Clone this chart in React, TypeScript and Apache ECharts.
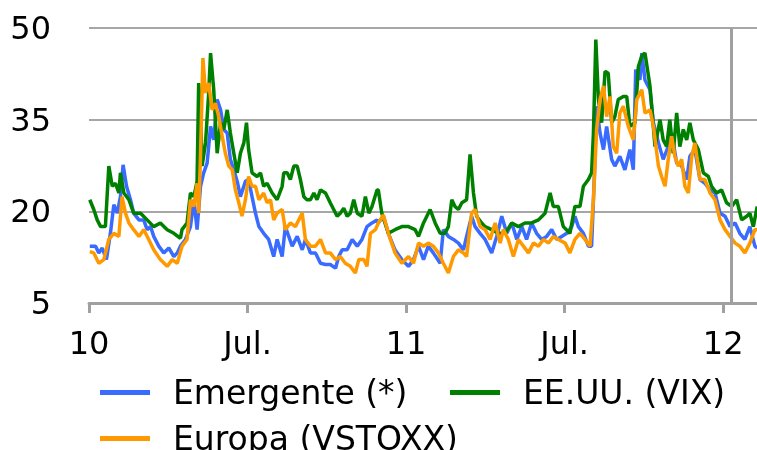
import React, { useEffect, useRef } from 'react';
import * as echarts from 'echarts';

// X positions are months elapsed since January 2010.
const tickMonths = [0, 6, 12, 18, 24];
const tickLabels = ['10', 'Jul.', '11', 'Jul.', '12'];
const axisMaxMonth = 25.28;
const markerMonth = 24.3;

const emergenteMonths = [
  0.03, 0.25, 0.37, 0.5, 0.66, 0.81, 0.94, 1.07, 1.19, 1.29, 1.42, 1.57, 1.69, 1.89, 2.07, 2.2, 2.33, 2.45, 2.64, 2.83,
  3.02, 3.21, 3.34, 3.46, 3.65, 3.84, 3.97, 4.09, 4.22, 4.34, 4.47, 4.6, 4.72, 4.85, 4.98, 5.1, 5.23, 5.35, 5.48, 5.61,
  5.73, 5.92, 6.04, 6.17, 6.3, 6.43, 6.61, 6.8, 6.99, 7.12, 7.31, 7.43, 7.56, 7.69, 7.88, 8.07, 8.19, 8.38, 8.57, 8.76,
  8.95, 9.13, 9.33, 9.45, 9.58, 9.77, 9.96, 10.15, 10.33, 10.52, 10.71, 10.9,
  10.95, 11.14, 11.33, 11.58, 11.84, 12.09, 12.28, 12.47, 12.66, 12.84, 13.03, 13.29, 13.41, 13.6, 13.79, 13.98, 14.17,
  14.29, 14.48, 14.61, 14.8, 14.99, 15.24, 15.43, 15.62, 15.81, 16.0, 16.19, 16.38, 16.56, 16.75, 16.94, 17.13, 17.32,
  17.51, 17.7, 17.89, 18.08, 18.27, 18.39, 18.52, 18.71, 18.9, 19.02, 19.13, 19.21, 19.34, 19.47, 19.59, 19.78, 19.9,
  20.09, 20.28, 20.47, 20.6, 20.69, 20.85, 20.92, 21.04, 21.23, 21.36, 21.55, 21.73, 21.92, 22.05, 22.24, 22.43, 22.62,
  22.74, 22.93, 23.12, 23.31, 23.5, 23.69, 23.88, 24.07, 24.26, 24.45, 24.63, 24.82, 25.01, 25.2, 25.29,
];
const emergenteValues = [
  14.3, 14.3, 13.2, 14.0, 12.1, 16.4, 21.1, 19.7, 22.4, 27.6, 24.1, 21.9, 19.7, 18.6, 18.6, 17.0, 17.5, 15.9, 14.3, 13.2,
  14.0, 12.6, 13.2, 14.3, 15.4, 17.5, 21.9, 17.0, 24.1, 26.3, 27.9, 33.9, 31.7, 38.3, 36.6, 33.4, 32.8, 28.5, 26.8, 24.9,
  22.4, 24.9, 25.2, 22.4, 19.7, 17.5, 16.4, 15.4, 12.6, 15.4, 12.6, 17.5, 15.9, 14.3, 15.9, 13.7, 15.4, 13.2, 13.2, 11.5,
  11.3, 11.3, 10.7, 12.6, 13.7, 13.7, 15.4, 14.3, 15.4, 17.5, 18.1, 18.6,
  18.1, 19.2, 16.4, 13.7, 12.1, 11.0, 12.1, 14.3, 12.1, 14.3, 13.2, 11.5, 17.0, 15.9, 15.4, 14.8, 13.7,
  15.9, 19.2, 17.5, 16.4, 15.4, 13.2, 15.9, 19.2, 16.4, 18.1, 15.4, 17.5, 15.4, 18.1, 16.4, 15.4, 15.9,
  17.0, 15.4, 15.9, 16.4, 17.5, 19.2, 17.5, 16.4, 14.3, 14.3, 26.3, 37.2, 32.8, 30.1, 33.9, 28.5, 27.4,
  29.0, 26.8, 30.1, 26.8, 43.2, 41.5, 45.9, 41.5, 39.9, 34.5, 31.2, 28.5, 30.6, 32.8, 27.9, 27.4, 25.2,
  29.0, 30.1, 25.2, 24.6, 23.5, 23.0, 19.7, 19.2, 17.5, 18.1, 16.4, 15.4, 17.5, 14.3, 14.0,
];

const eeuuMonths = [
  0.03, 0.18, 0.31, 0.44, 0.62, 0.75, 0.88, 1.0, 1.13, 1.19, 1.32, 1.51, 1.69, 1.95, 2.2, 2.45, 2.7, 2.96, 3.21, 3.46,
  3.52, 3.71, 3.84, 3.97, 4.09, 4.15, 4.22, 4.28, 4.41, 4.53, 4.6, 4.72, 4.85, 4.98, 5.1, 5.23, 5.35, 5.48, 5.61, 5.73,
  5.86, 5.96, 6.04, 6.17, 6.36, 6.49, 6.61, 6.74, 6.93, 7.12, 7.31, 7.37, 7.5, 7.62, 7.75, 7.88, 8.0, 8.13, 8.25, 8.38,
  8.51, 8.63, 8.76, 8.95, 9.13, 9.26, 9.39, 9.51, 9.64, 9.77, 9.89, 10.02, 10.15, 10.33, 10.46, 10.59, 10.71, 10.9,
  10.95, 11.08, 11.33, 11.58, 11.84, 12.09, 12.34, 12.47, 12.66, 12.91, 13.1, 13.29, 13.47, 13.6, 13.73, 13.85, 13.98,
  14.11, 14.29, 14.42, 14.55, 14.67, 14.86, 14.99, 15.24, 15.49, 15.75, 16.0, 16.25, 16.5, 16.75, 17.01, 17.26, 17.45,
  17.57, 17.76, 17.95, 18.2, 18.39, 18.58, 18.71, 18.9, 19.02, 19.09, 19.18, 19.28, 19.4, 19.53, 19.65, 19.78, 19.9,
  20.03, 20.22, 20.35, 20.47, 20.66, 20.79, 20.92, 21.04, 21.23, 21.42, 21.61, 21.73, 21.86, 21.98, 22.11, 22.24, 22.36,
  22.49, 22.62, 22.74, 22.87, 23.06, 23.25, 23.44, 23.56, 23.75, 23.94, 24.13, 24.32, 24.51, 24.7, 24.89, 25.01, 25.14,
  25.29,
];
const eeuuValues = [
  21.9, 20.3, 18.6, 17.5, 17.5, 27.4, 24.1, 24.6, 23.0, 26.3, 23.0, 21.9, 19.7, 19.7, 18.6, 17.5, 18.1, 17.0, 16.4, 15.6,
  17.0, 18.1, 23.0, 22.4, 24.9, 41.0, 36.6, 27.4, 31.2, 39.4, 45.9, 39.9, 29.5, 34.5, 33.4, 36.6, 32.8, 29.5, 26.3, 29.5,
  31.2, 34.5, 30.1, 26.3, 25.7, 26.3, 24.1, 24.6, 23.0, 21.9, 24.1, 26.3, 26.3, 25.2, 27.4, 27.4, 25.2, 22.4, 21.9, 21.9,
  23.0, 21.9, 23.5, 23.0, 21.4, 20.3, 19.2, 19.7, 20.5, 19.2, 19.7, 21.9, 19.7, 19.2, 22.4, 19.7, 20.8, 23.5,
  23.5, 19.7, 16.4, 17.0, 17.5, 17.5, 17.0, 15.9, 18.1, 20.3, 18.1, 16.4, 16.4, 17.5, 21.9, 20.8, 20.3,
  21.4, 21.9, 29.3, 23.0, 19.2, 18.1, 17.5, 17.0, 16.4, 16.4, 18.1, 17.5, 18.1, 18.1, 18.6, 19.7, 23.0,
  20.8, 20.8, 17.5, 16.4, 20.8, 20.8, 24.1, 25.2, 26.3, 32.8, 48.1, 38.3, 34.5, 42.9, 42.6, 34.5, 35.5,
  38.3, 38.8, 38.8, 33.9, 34.5, 43.7, 45.4, 45.9, 40.5, 30.6, 35.0, 31.7, 30.6, 35.0, 29.5, 36.1, 30.6,
  33.4, 31.7, 34.5, 31.7, 30.1, 26.3, 25.7, 24.1, 23.0, 23.5, 21.4, 20.8, 21.9, 18.6, 19.2, 19.7, 17.5,
  20.8,
];

const europaMonths = [
  0.03, 0.18, 0.37, 0.56, 0.75, 0.94, 1.13, 1.25, 1.38, 1.51, 1.69, 1.89, 2.07, 2.26, 2.45, 2.7, 2.96, 3.15, 3.34, 3.52,
  3.71, 3.84, 3.97, 4.09, 4.15, 4.22, 4.31, 4.41, 4.53, 4.66, 4.78, 4.91, 5.04, 5.16, 5.29, 5.42, 5.54, 5.67, 5.79, 5.92,
  6.04, 6.17, 6.3, 6.43, 6.61, 6.74, 6.87, 6.99, 7.12, 7.31, 7.43, 7.62, 7.81, 7.94, 8.07, 8.19, 8.38, 8.57, 8.76, 8.95,
  9.13, 9.33, 9.51, 9.7, 9.89, 10.08, 10.21, 10.4, 10.52, 10.65, 10.84,
  10.95, 11.14, 11.33, 11.58, 11.84, 12.09, 12.28, 12.47, 12.66, 12.84, 13.03, 13.22, 13.41, 13.6, 13.79, 13.98, 14.17,
  14.29, 14.48, 14.61, 14.8, 14.99, 15.18, 15.37, 15.56, 15.68, 15.87, 16.06, 16.25, 16.44, 16.63, 16.82, 17.01, 17.2,
  17.39, 17.57, 17.76, 18.02, 18.2, 18.39, 18.58, 18.77, 18.96, 19.09, 19.21, 19.34, 19.47, 19.59, 19.72, 19.84, 19.97,
  20.09, 20.22, 20.41, 20.6, 20.73, 20.92, 21.04, 21.23, 21.36, 21.55, 21.67, 21.8, 21.92, 22.05, 22.17, 22.3, 22.43,
  22.55, 22.68, 22.81, 22.93, 23.12, 23.31, 23.5, 23.69, 23.88, 24.07, 24.26, 24.45, 24.63, 24.82, 25.01, 25.2, 25.29,
];
const europaValues = [
  13.4, 13.2, 11.5, 12.1, 15.4, 16.4, 15.9, 22.4, 19.7, 18.1, 17.0, 15.9, 17.0, 15.4, 13.7, 12.1, 11.0, 12.1, 11.5, 14.3,
  15.4, 21.9, 20.8, 24.6, 19.7, 29.0, 45.1, 39.4, 41.0, 36.6, 37.7, 35.5, 32.3, 29.5, 27.4, 26.8, 23.5, 21.4, 19.2, 21.9,
  25.7, 24.1, 24.1, 21.9, 23.0, 21.4, 21.9, 18.6, 19.7, 20.3, 17.0, 18.1, 17.5, 18.6, 19.7, 15.4, 14.3, 14.3, 15.4, 13.2,
  13.2, 12.1, 12.6, 11.5, 11.0, 9.9, 12.1, 12.1, 11.0, 16.4, 17.0,
  18.1, 19.4, 16.4, 13.2, 11.5, 12.6, 11.5, 14.8, 14.3, 14.8, 14.3, 13.2, 11.5, 9.9, 12.6, 13.7, 13.2,
  12.6, 19.7, 20.3, 17.5, 17.0, 15.4, 18.1, 14.8, 17.0, 15.4, 12.6, 15.4, 14.3, 13.2, 14.8, 14.3, 15.4,
  14.8, 15.9, 15.4, 14.8, 13.2, 15.4, 16.4, 15.4, 14.3, 21.9, 33.4, 38.3, 40.5, 35.5, 38.8, 30.6, 29.5,
  36.1, 37.2, 33.9, 31.7, 38.3, 39.9, 36.1, 36.6, 33.9, 27.4, 25.7, 24.1, 28.5, 32.3, 29.0, 27.4, 28.5,
  24.1, 23.0, 29.0, 31.2, 25.2, 25.2, 23.0, 21.9, 18.6, 17.0, 15.9, 14.8, 14.3, 13.2, 14.8, 17.0, 17.0,
];

const FONT = 'DejaVu Sans';
const AXIS_GRAY = '#a0a0a0';
const legendIcon = 'path://M0,0H50V5H0Z M68,0h0.01v0.01h-0.01Z';

const pairs = (xs: number[], ys: number[]) => xs.map((x, i) => [x, ys[i]]);

export default function App() {
  const ref = useRef<HTMLDivElement>(null);

  useEffect(() => {
    if (!ref.current) return;
    const chart = echarts.init(ref.current, null, { renderer: 'svg' });
    const lineSeries = (name: string, color: string, xs: number[], ys: number[]) => ({
      name,
      type: 'line',
      data: pairs(xs, ys),
      showSymbol: false,
      symbol: 'none',
      color,
      lineStyle: { color, width: 3.5 },
      silent: true,
    });
    const textStyle = { fontSize: 33, fontFamily: FONT, color: '#000', lineHeight: 32 };
    const legendBase = {
      orient: 'vertical',
      top: 376,
      height: 120,
      padding: 0,
      itemWidth: 68,
      itemHeight: 5,
      itemGap: 13,
      icon: legendIcon,
      itemStyle: { borderWidth: 0 },
      textStyle,
      selectedMode: false,
    };
    chart.setOption({
      animation: false,
      grid: { left: 89, right: 0, top: 28, bottom: 147, containLabel: false },
      xAxis: {
        type: 'value',
        min: 0,
        max: axisMaxMonth,
        interval: 6,
        axisLine: { show: true, lineStyle: { color: AXIS_GRAY, width: 3 } },
        axisTick: { show: true, length: 10, customValues: tickMonths, lineStyle: { color: AXIS_GRAY, width: 3 } },
        axisLabel: {
          customValues: tickMonths,
          formatter: (v: number) => {
            const i = tickMonths.indexOf(Math.round(v));
            return i >= 0 ? tickLabels[i] : '';
          },
          fontSize: 32,
          fontFamily: FONT,
          color: '#000',
          margin: 24,
        },
        splitLine: { show: false },
      },
      yAxis: {
        type: 'value',
        min: 5,
        max: 50,
        interval: 15,
        axisLine: { show: false },
        axisTick: { show: false },
        axisLabel: { fontSize: 32, fontFamily: FONT, color: '#000', margin: 38, padding: [0, 0, 6, 0] },
        splitLine: { show: true, lineStyle: { color: '#a6a6a6', width: 2 } },
      },
      legend: [
        { ...legendBase, data: ['Emergente (*)', 'Europa (VSTOXX)'], left: 100 },
        { ...legendBase, data: ['EE.UU. (VIX)'], left: 450 },
      ],
      series: [
        {
          ...lineSeries('Emergente (*)', '#3a6bff', emergenteMonths, emergenteValues),
          markLine: {
            silent: true,
            symbol: 'none',
            label: { show: false },
            lineStyle: { color: AXIS_GRAY, width: 3, type: 'solid' },
            data: [{ xAxis: markerMonth }],
          },
        },
        lineSeries('EE.UU. (VIX)', '#008000', eeuuMonths, eeuuValues),
        lineSeries('Europa (VSTOXX)', '#ff9900', europaMonths, europaValues),
      ],
    });
    return () => chart.dispose();
  }, []);

  return <div ref={ref} style={{ position: 'fixed', left: 0, top: 0, width: 757, height: 450 }} />;
}
